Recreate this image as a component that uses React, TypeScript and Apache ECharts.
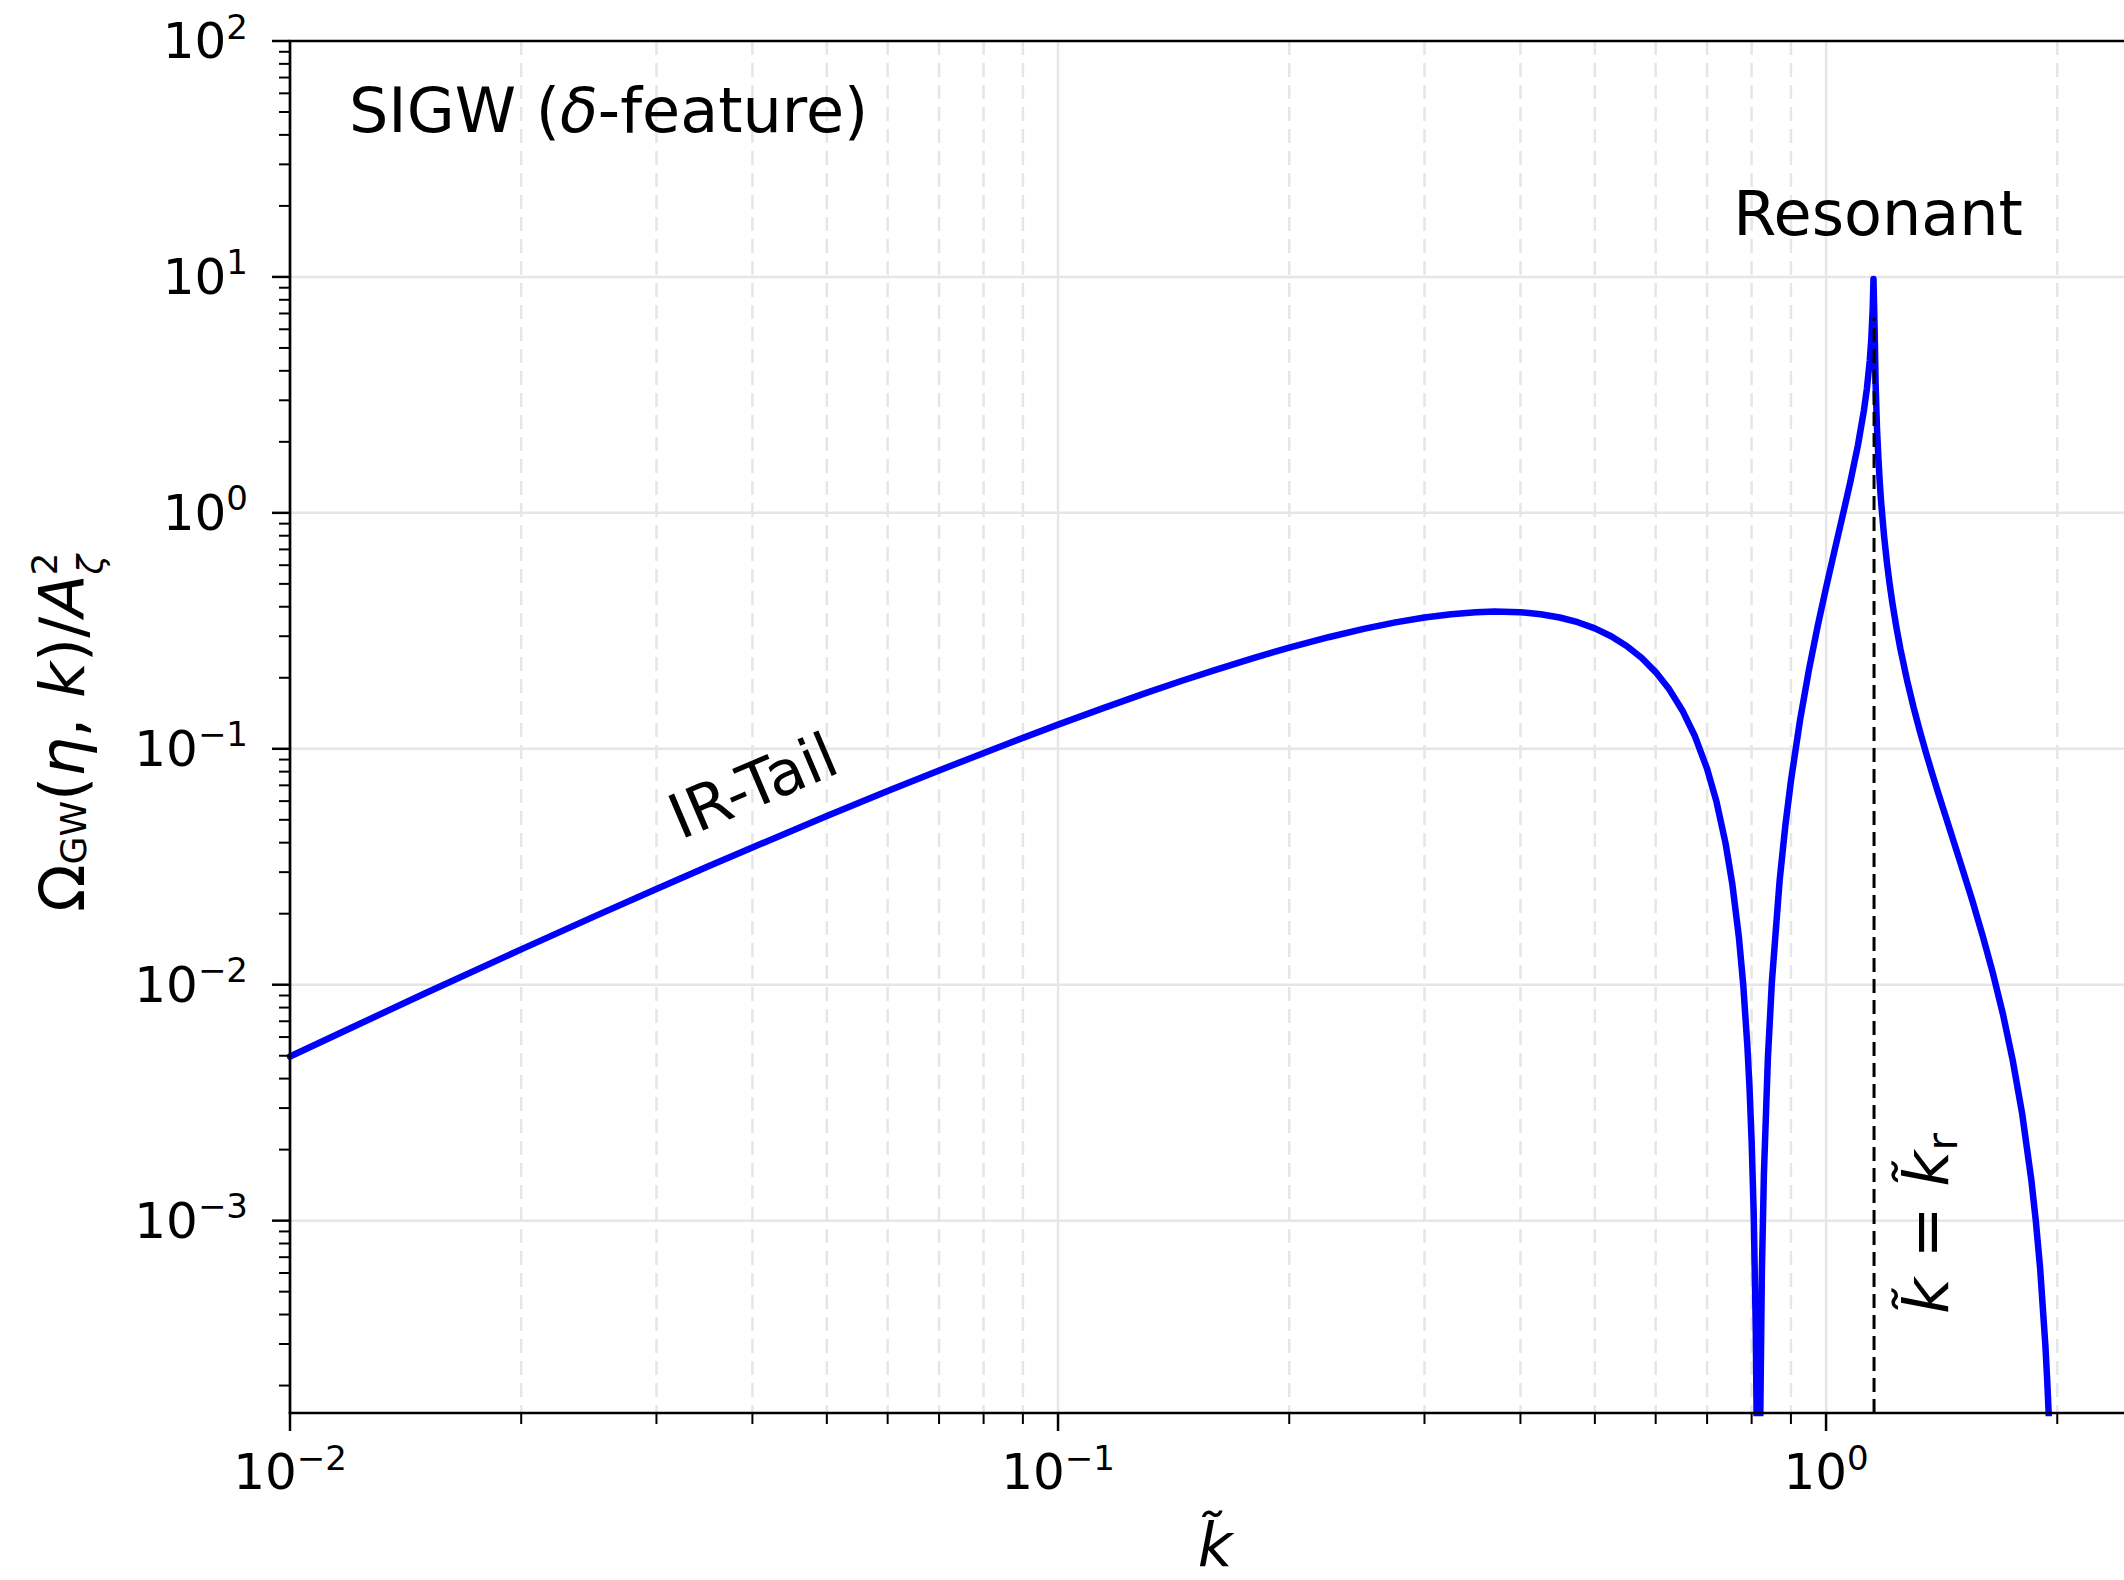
import React, { useEffect, useRef } from 'react';
import * as echarts from 'echarts';

// ---- data (k̃, Ω_GW/A_ζ²) ----
const kValues = [
  0.01, 0.012, 0.015, 0.02, 0.025, 0.03, 0.035, 0.04, 0.05, 0.06, 0.07, 0.085,
  0.1, 0.115, 0.13, 0.145, 0.16, 0.18, 0.2, 0.225, 0.25, 0.275, 0.3, 0.325,
  0.35, 0.37, 0.4, 0.425, 0.45, 0.475, 0.5, 0.525, 0.55, 0.575, 0.6, 0.625,
  0.65, 0.675, 0.7, 0.72, 0.74, 0.755, 0.77, 0.78, 0.79, 0.795, 0.8, 0.805,
  0.81, 0.813, 0.8165, 0.82, 0.825, 0.83, 0.84, 0.85, 0.87, 0.885, 0.9, 0.925,
  0.95, 0.975, 1.0, 1.025, 1.05, 1.075, 1.1, 1.12, 1.13, 1.14, 1.145, 1.15,
  1.1528, 1.157, 1.16, 1.165, 1.17, 1.175, 1.18, 1.19, 1.2, 1.21, 1.22, 1.235,
  1.25, 1.275, 1.3, 1.325, 1.35, 1.375, 1.4, 1.45, 1.5, 1.55, 1.6, 1.65,
  1.7, 1.75, 1.8, 1.85, 1.875, 1.9, 1.93, 1.94, 1.95, 1.96, 1.97, 1.99,
];
const omegaValues = [
  0.00496, 0.006555, 0.0092, 0.01412, 0.01958, 0.02545, 0.03167, 0.03817, 0.05184, 0.06616, 0.08094, 0.1036,
  0.1266, 0.1495, 0.1721, 0.1942, 0.2156, 0.2429, 0.2683, 0.2971, 0.3223, 0.3433, 0.3599, 0.372,
  0.3792, 0.3816, 0.3792, 0.372, 0.3602, 0.344, 0.3238, 0.2998, 0.2727, 0.243, 0.2114, 0.1786,
  0.1454, 0.113, 0.08224, 0.05967, 0.03963, 0.02669, 0.01589, 0.01006, 0.005447, 0.003634, 0.002169, 0.001068,
  0.0003456, 0.0001009, 1e-7, 0.0001033, 0.0006165, 0.001576, 0.004905, 0.01024, 0.02758, 0.04713, 0.07304, 0.1325,
  0.2162, 0.3301, 0.4822, 0.6851, 0.9595, 1.344, 1.928, 2.709, 3.347, 4.423, 5.385, 7.305,
  9.8, 5.764, 3.573, 2.275, 1.692, 1.325, 1.091, 0.796, 0.6182, 0.4995, 0.4148, 0.3256,
  0.2638, 0.1949, 0.1499, 0.1186, 0.09568, 0.0783, 0.06475, 0.04523, 0.03204, 0.0228, 0.01604, 0.01111,
  0.007469, 0.004781, 0.002845, 0.001495, 0.001006, 0.0006262, 0.0002958, 0.000215, 0.0001477, 0.0000935, 0.000052, 0.000006,
];

// resonance marker k̃ = k̃_r and the height the dashed line reaches
const resonanceK = 1.1547;
const resonanceLineTop = 6.7;

// axis ranges and ticks
const xMin = 0.01;
const xMax = 2.443;
const yMin = 1.53e-4;
const yMax = 100;
const xMajorTicks = [0.01, 0.1, 1];
const yMajorTicks = [0.001, 0.01, 0.1, 1, 10, 100];
const minorMantissas = [2, 3, 4, 5, 6, 7, 8, 9];
const xMinorDecades = [0.01, 0.1, 1];
const yMinorDecades = [0.0001, 0.001, 0.01, 0.1, 1, 10];

const FONT = 'DejaVu Sans';
const GRID_COLOR = '#e6e6e6';

function minorValues(decades: number[], lo: number, hi: number) {
  const out: number[] = [];
  decades.forEach((d) => minorMantissas.forEach((m) => {
    const v = d * m;
    if (v > lo * 1.0000001 && v < hi * 0.9999999) out.push(v);
  }));
  return out;
}

function tickLabel(v: number) {
  const e = Math.log10(v);
  const r = Math.round(e);
  if (Math.abs(e - r) > 1e-6) return '';
  const ex = r < 0 ? '\u2212' + String(-r) : String(r);
  return `{b|10}{s|${ex}}`;
}

const labelRich = {
  b: { fontFamily: FONT, fontSize: 50, color: '#000', lineHeight: 64, height: 64 },
  s: { fontFamily: FONT, fontSize: 34, color: '#000', lineHeight: 35, height: 35, verticalAlign: 'top' },
};

export default function App() {
  const ref = useRef<HTMLDivElement>(null);

  useEffect(() => {
    document.body.style.margin = '0';
    if (!ref.current) return;
    const chart = echarts.init(ref.current, null, { renderer: 'svg' });

    const xMinor = minorValues(xMinorDecades, xMin, xMax);
    const yMinor = minorValues(yMinorDecades, yMin, yMax);
    const curve = kValues.map((k, i) => [k, omegaValues[i]]);

    const option: any = {
      animation: false,
      backgroundColor: '#ffffff',
      grid: { left: 290, top: 41, right: 0, bottom: 167, containLabel: false, outerBoundsMode: 'none' },
      xAxis: {
        type: 'log',
        logBase: 10,
        min: xMin,
        max: xMax,
        axisLine: { show: false },
        axisTick: { show: false },
        splitLine: { show: false },
        minorTick: { show: false },
        minorSplitLine: { show: false },
        axisLabel: {
          margin: 27,
          fontFamily: FONT,
          fontSize: 50,
          color: '#000',
          formatter: tickLabel,
          rich: labelRich,
        },
      },
      yAxis: {
        type: 'log',
        logBase: 10,
        min: yMin,
        max: yMax,
        axisLine: { show: false },
        axisTick: { show: false },
        splitLine: { show: false },
        minorTick: { show: false },
        minorSplitLine: { show: false },
        axisLabel: {
          margin: 42,
          fontFamily: FONT,
          fontSize: 50,
          color: '#000',
          formatter: tickLabel,
          rich: labelRich,
        },
      },
      series: [
        {
          type: 'custom',
          name: 'gridlines',
          coordinateSystem: 'cartesian2d',
          silent: true,
          z: 1,
          clip: false,
          data: [[1, 1]],
          renderItem: (params: any, api: any) => {
            const cs = params.coordSys;
            const left = cs.x, top = cs.y, right = cs.x + cs.width, bottom = cs.y + cs.height;
            const children: any[] = [];
            yMajorTicks.forEach((v) => {
              const p = api.coord([1, v]);
              if (p[1] > top + 1 && p[1] < bottom - 1) {
                children.push({ type: 'line', shape: { x1: left, y1: p[1], x2: right, y2: p[1] }, style: { stroke: GRID_COLOR, lineWidth: 2.5 } });
              }
            });
            xMajorTicks.forEach((v) => {
              const p = api.coord([v, 1]);
              if (p[0] > left + 1 && p[0] < right - 1) {
                children.push({ type: 'line', shape: { x1: p[0], y1: top, x2: p[0], y2: bottom }, style: { stroke: GRID_COLOR, lineWidth: 2.5 } });
              }
            });
            xMinor.forEach((v) => {
              const p = api.coord([v, 1]);
              children.push({ type: 'line', shape: { x1: p[0], y1: top, x2: p[0], y2: bottom }, style: { stroke: GRID_COLOR, lineWidth: 2.5, lineDash: [14, 8] } });
            });
            return { type: 'group', children };
          },
        },
        {
          type: 'line',
          name: 'SIGW',
          data: curve,
          showSymbol: false,
          symbol: 'none',
          smooth: false,
          clip: true,
          z: 3,
          lineStyle: { color: '#0000ff', width: 6.5, join: 'round', cap: 'round' },
        },
        {
          type: 'line',
          name: 'resonance',
          data: [[resonanceK, yMin], [resonanceK, resonanceLineTop]],
          showSymbol: false,
          symbol: 'none',
          clip: true,
          z: 4,
          lineStyle: { color: '#000000', width: 3, type: [14, 7] },
        },
        {
          type: 'custom',
          name: 'frame',
          coordinateSystem: 'cartesian2d',
          silent: true,
          z: 10,
          clip: false,
          data: [[1, 1]],
          renderItem: (params: any, api: any) => {
            const cs = params.coordSys;
            const left = cs.x, top = cs.y, right = cs.x + cs.width, bottom = cs.y + cs.height;
            const children: any[] = [];
            const axisW = 2.7;
            children.push({ type: 'line', shape: { x1: left - axisW / 2, y1: bottom, x2: right, y2: bottom }, style: { stroke: '#000', lineWidth: axisW } });
            children.push({ type: 'line', shape: { x1: left - axisW / 2, y1: top, x2: right, y2: top }, style: { stroke: '#000', lineWidth: axisW } });
            children.push({ type: 'line', shape: { x1: left, y1: top, x2: left, y2: bottom }, style: { stroke: '#000', lineWidth: axisW } });
            xMajorTicks.forEach((v) => {
              const p = api.coord([v, 1]);
              children.push({ type: 'line', shape: { x1: p[0], y1: bottom, x2: p[0], y2: bottom + 18 }, style: { stroke: '#000', lineWidth: 2.5 } });
            });
            xMinor.forEach((v) => {
              const p = api.coord([v, 1]);
              children.push({ type: 'line', shape: { x1: p[0], y1: bottom, x2: p[0], y2: bottom + 11 }, style: { stroke: '#000', lineWidth: 2 } });
            });
            yMajorTicks.forEach((v) => {
              const p = api.coord([1, v]);
              children.push({ type: 'line', shape: { x1: left - 18, y1: p[1], x2: left, y2: p[1] }, style: { stroke: '#000', lineWidth: 2.5 } });
            });
            yMinor.forEach((v) => {
              const p = api.coord([1, v]);
              children.push({ type: 'line', shape: { x1: left - 11, y1: p[1], x2: left, y2: p[1] }, style: { stroke: '#000', lineWidth: 2 } });
            });
            return { type: 'group', children };
          },
        },
      ],
      graphic: [
        {
          type: 'text',
          x: 349,
          y: 110.5,
          z: 20,
          style: {
            text: 'SIGW ({i|\u03B4}-feature)',
            fontFamily: FONT,
            fontSize: 62,
            lineHeight: 72,
            fill: '#000',
            align: 'left',
            verticalAlign: 'middle',
            rich: { i: { fontFamily: FONT, fontSize: 62, fontStyle: 'italic', lineHeight: 72, fill: '#000' } },
          },
        },
        {
          type: 'text',
          x: 1878,
          y: 213.5,
          z: 20,
          style: { text: 'Resonant', fontFamily: FONT, fontSize: 62, fill: '#000', align: 'center', verticalAlign: 'middle' },
        },
        {
          type: 'text',
          x: 753,
          y: 786,
          rotation: (23 * Math.PI) / 180,
          z: 20,
          style: { text: 'IR-Tail', fontFamily: FONT, fontSize: 62, fill: '#000', align: 'center', verticalAlign: 'middle' },
        },
        {
          type: 'text',
          x: 1926.5,
          y: 1223.5,
          rotation: Math.PI / 2,
          z: 20,
          style: {
            text: '{i|k\u0303} = {i|k\u0303}{r|r}',
            fontFamily: FONT,
            fontSize: 62,
            lineHeight: 72,
            fill: '#000',
            align: 'center',
            verticalAlign: 'middle',
            rich: {
              i: { fontFamily: FONT, fontSize: 62, fontStyle: 'italic', lineHeight: 72, fill: '#000' },
              r: { fontFamily: FONT, fontSize: 43, height: 41, lineHeight: 41, verticalAlign: 'bottom', fill: '#000' },
            },
          },
        },
        {
          type: 'text',
          x: 1215,
          y: 1545,
          z: 20,
          style: { text: 'k\u0303', fontFamily: FONT, fontSize: 60, fontStyle: 'italic', fill: '#000', align: 'center', verticalAlign: 'middle' },
        },
        {
          type: 'text',
          x: 62.5,
          y: 555,
          rotation: Math.PI / 2,
          z: 20,
          style: {
            text: '{m|\u03A9}{g|GW}{m|(}{i|\u03B7}{m|, }{i|k}{m|)/}{i|A}{z|\u03B6}',
            fontFamily: FONT,
            fontSize: 62,
            lineHeight: 72,
            fill: '#000',
            align: 'right',
            verticalAlign: 'middle',
            rich: {
              m: { fontFamily: FONT, fontSize: 62, lineHeight: 72, fill: '#000' },
              i: { fontFamily: FONT, fontSize: 62, fontStyle: 'italic', lineHeight: 72, fill: '#000' },
              g: { fontFamily: FONT, fontSize: 36, height: 50, lineHeight: 50, verticalAlign: 'bottom', fill: '#000' },
              z: { fontFamily: FONT, fontSize: 36, fontStyle: 'italic', height: 16, lineHeight: 16, verticalAlign: 'bottom', fill: '#000' },
            },
          },
        },
        {
          type: 'text',
          x: 44,
          y: 564,
          rotation: Math.PI / 2,
          z: 20,
          style: { text: '2', fontFamily: FONT, fontSize: 36, fill: '#000', align: 'center', verticalAlign: 'middle' },
        },
      ],
    };

    chart.setOption(option);
    return () => {
      chart.dispose();
    };
  }, []);

  return (
    <div
      ref={ref}
      style={{ position: 'absolute', left: 0, top: 0, width: 2124, height: 1580, background: '#fff' }}
    />
  );
}
